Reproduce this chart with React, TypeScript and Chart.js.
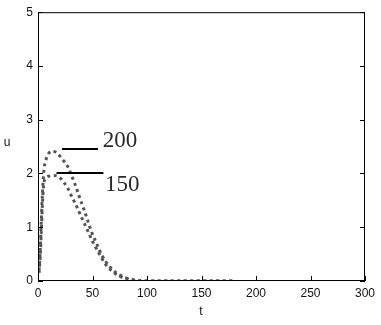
import React, { useEffect, useRef } from "react";
import { Chart, registerables } from "chart.js";

Chart.register(...registerables);

const tValues = [1, 2, 3, 4, 5, 6, 8, 10, 13, 16, 19, 22, 25, 28, 31, 34, 37, 40, 43, 46, 49, 52, 55, 58, 61, 64, 67, 70, 74, 78, 82, 86, 90, 95, 100, 110, 120, 130, 140, 150, 160, 170, 180];
const u200 = [0.2, 0.55, 1.1, 1.6, 1.95, 2.15, 2.3, 2.38, 2.42, 2.4, 2.35, 2.27, 2.2, 2.1, 1.95, 1.8, 1.62, 1.45, 1.28, 1.1, 0.92, 0.78, 0.64, 0.5, 0.4, 0.31, 0.24, 0.18, 0.12, 0.08, 0.05, 0.03, 0.015, 0.005, 0, 0, 0, 0, 0, 0, 0, 0, 0];
const u150 = [0.15, 0.45, 0.9, 1.4, 1.75, 1.88, 1.93, 1.95, 1.96, 1.96, 1.94, 1.88, 1.8, 1.7, 1.57, 1.45, 1.32, 1.18, 1.05, 0.92, 0.78, 0.66, 0.55, 0.44, 0.34, 0.26, 0.2, 0.15, 0.1, 0.06, 0.04, 0.02, 0.01, 0, 0, 0, 0, 0, 0, 0, 0, 0, 0];
const xTickValues = [0, 50, 100, 150, 200, 250, 300];
const yTickValues = [0, 1, 2, 3, 4, 5];
const seriesLabels = ["200", "150"];
const xTitle = "t";
const yTitle = "u";

const toPts = (ys: number[]) => tValues.map((t, i) => ({ x: t, y: ys[i] }));

const framePlugin = {
  id: "framePlugin",
  afterDraw(chart: any) {
    const { ctx, chartArea } = chart;
    const xs = chart.scales.x;
    const ys = chart.scales.y;
    const { left, right, top, bottom } = chartArea;
    ctx.save();
    ctx.strokeStyle = "#000";
    ctx.lineWidth = 1;
    ctx.strokeRect(left + 0.5, top + 0.5, right - left - 1, bottom - top - 1);
    ctx.beginPath();
    xTickValues.forEach((v) => {
      const px = Math.round(xs.getPixelForValue(v)) + 0.5;
      ctx.moveTo(px, bottom);
      ctx.lineTo(px, bottom - 5);
    });
    yTickValues.forEach((v) => {
      const py = Math.round(ys.getPixelForValue(v)) + 0.5;
      ctx.moveTo(left, py);
      ctx.lineTo(left + 5, py);
      ctx.moveTo(right, py);
      ctx.lineTo(right - 5, py);
    });
    ctx.stroke();

    // axis titles
    ctx.fillStyle = "#111";
    ctx.font = "12px 'Liberation Sans', Arial, sans-serif";
    ctx.textAlign = "center";
    ctx.textBaseline = "middle";
    ctx.fillText(yTitle, 7, 143);
    ctx.fillText(xTitle, (left + right) / 2 - 0.5, 312);

    // series annotations
    const ann = [
      { text: seriesLabels[0], x1: 22, x2: 55, y: 2.46, tx: 59.5, ty: 2.5 },
      { text: seriesLabels[1], x1: 17, x2: 60, y: 2.0, tx: 61.5, ty: 1.68 },
    ];
    ctx.lineWidth = 2;
    ctx.strokeStyle = "#000";
    ctx.font = "23px 'Liberation Serif', 'Times New Roman', serif";
    ctx.textAlign = "left";
    ctx.textBaseline = "alphabetic";
    ctx.fillStyle = "#2a2a2a";
    ann.forEach((a) => {
      const py = Math.round(ys.getPixelForValue(a.y));
      ctx.beginPath();
      ctx.moveTo(xs.getPixelForValue(a.x1), py);
      ctx.lineTo(xs.getPixelForValue(a.x2), py);
      ctx.stroke();
      ctx.fillText(a.text, xs.getPixelForValue(a.tx), ys.getPixelForValue(a.ty));
    });
    ctx.restore();
  },
};

export default function App() {
  const ref = useRef<HTMLCanvasElement | null>(null);
  useEffect(() => {
    if (!ref.current) return;
    const lineStyle = {
      showLine: true,
      borderColor: "#555",
      borderWidth: 3,
      borderDash: [3, 3.5],
      pointRadius: 0,
      tension: 0.3,
      fill: false,
    };
    const chart = new Chart(ref.current, {
      type: "scatter",
      data: {
        datasets: [
          { label: seriesLabels[0], data: toPts(u200), ...lineStyle },
          { label: seriesLabels[1], data: toPts(u150), ...lineStyle },
        ],
      },
      options: {
        animation: false,
        responsive: false,
        layout: { padding: { left: 0, right: 16, top: 10, bottom: 0 } },
        plugins: { legend: { display: false }, tooltip: { enabled: false } },
        scales: {
          x: {
            type: "linear",
            min: 0,
            max: 300,
            afterFit: (s: any) => { s.height = 44; },
            afterBuildTicks: (s: any) => { s.ticks = xTickValues.map((v) => ({ value: v })); },
            ticks: { color: "#111", font: { family: "'Liberation Sans', Arial, sans-serif", size: 12 }, padding: 5, maxRotation: 0 },
            grid: { display: false, drawTicks: false },
            border: { display: false },
          },
          y: {
            type: "linear",
            min: 0,
            max: 5,
            afterFit: (s: any) => { s.width = 38; },
            afterBuildTicks: (s: any) => { s.ticks = yTickValues.map((v) => ({ value: v })); },
            ticks: { color: "#111", font: { family: "'Liberation Sans', Arial, sans-serif", size: 12 }, padding: 5 },
            grid: { display: false, drawTicks: false },
            border: { display: false },
          },
        },
      },
      plugins: [framePlugin],
    });
    return () => chart.destroy();
  }, []);
  return (
    <div style={{ position: "fixed", left: 0, top: 0, width: 381, height: 325, background: "#fff" }}>
      <canvas ref={ref} width={381} height={325} style={{ width: 381, height: 325 }} />
    </div>
  );
}
